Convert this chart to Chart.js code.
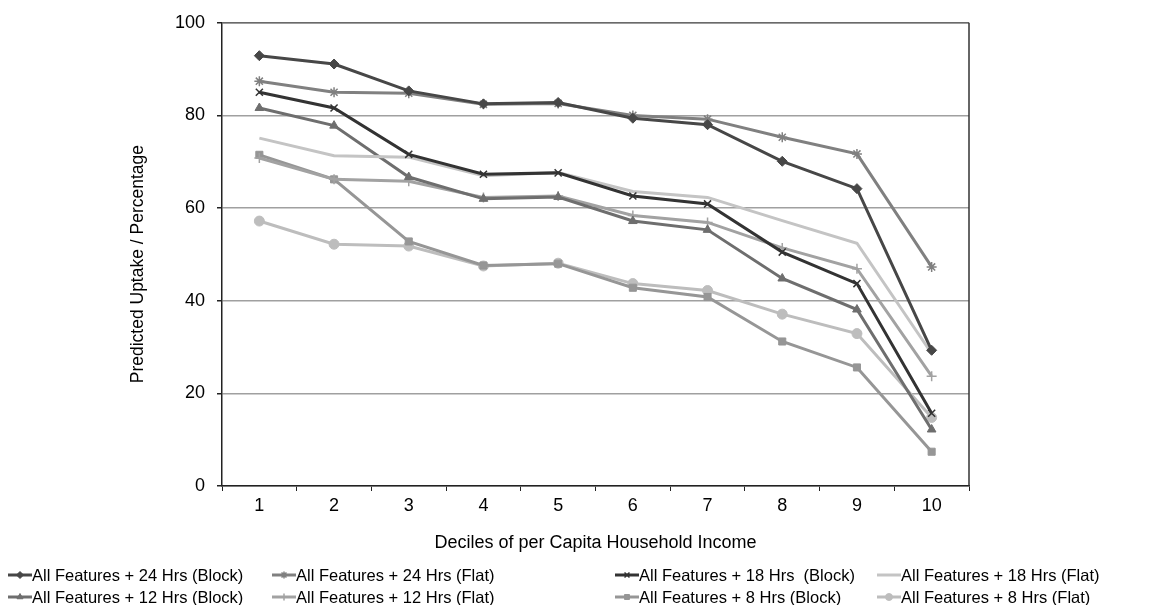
<!DOCTYPE html>
<html>
<head>
<meta charset="utf-8">
<script src="https://cdn.jsdelivr.net/npm/chart.js@4.4.1/dist/chart.umd.min.js"></script>
<style>
    html, body { margin: 0; padding: 0; background: #fff; }
    #wrap { width: 1169px; height: 605px; position: relative; }
</style>
</head>
<body>
<div id="wrap"><canvas id="chart"></canvas></div>
<script>
// Data
const deciles = ['1', '2', '3', '4', '5', '6', '7', '8', '9', '10'];
const yTicks = [0, 20, 40, 60, 80, 100];

const seriesNames = [
    'All Features + 24 Hrs (Block)',
    'All Features + 24 Hrs (Flat)',
    'All Features + 18 Hrs  (Block)',
    'All Features + 18 Hrs (Flat)',
    'All Features + 12 Hrs (Block)',
    'All Features + 12 Hrs (Flat)',
    'All Features + 8 Hrs (Block)',
    'All Features + 8 Hrs (Flat)'
];

const hrs24Block = [92.9, 91.1, 85.3, 82.5, 82.8, 79.4, 78.0, 70.1, 64.2, 29.3];
const hrs24Flat  = [87.4, 85.0, 84.8, 82.4, 82.6, 80.0, 79.2, 75.3, 71.7, 47.3];
const hrs18Block = [85.0, 81.6, 71.6, 67.3, 67.6, 62.6, 60.9, 50.5, 43.7, 15.7];
const hrs18Flat  = [75.1, 71.3, 71.0, 67.0, 67.7, 63.6, 62.3, 57.3, 52.4, 28.6];
const hrs12Block = [81.6, 77.8, 66.7, 62.0, 62.4, 57.2, 55.3, 44.8, 38.1, 12.2];
const hrs12Flat  = [70.8, 66.2, 65.8, 62.3, 62.6, 58.4, 56.9, 51.4, 46.9, 23.7];
const hrs8Block  = [71.5, 66.2, 52.8, 47.6, 48.0, 42.8, 40.8, 31.2, 25.6, 7.4];
const hrs8Flat   = [57.2, 52.2, 51.8, 47.5, 48.1, 43.7, 42.2, 37.1, 32.9, 14.8];

const seriesValues = [hrs24Block, hrs24Flat, hrs18Block, hrs18Flat, hrs12Block, hrs12Flat, hrs8Block, hrs8Flat];

const FONT = "'Liberation Sans', Arial, sans-serif";

// look of each series (grey shades + Excel style markers)
const styles = [
    { color: '#474747', point: 'rectRot',  radius: 5 },
    { color: '#808080', point: 'star',     radius: 5 },
    { color: '#333333', point: 'crossRot', radius: 5 },
    { color: '#c4c4c4', point: false,      radius: 0 },
    { color: '#6e6e6e', point: 'triangle', radius: 5 },
    { color: '#a2a2a2', point: 'cross',    radius: 5 },
    { color: '#969696', point: 'rect',     radius: 5 },
    { color: '#bdbdbd', point: 'circle',   radius: 5 }
];

const datasets = seriesValues.map((vals, i) => {
    const s = styles[i];
    const stroked = s.point === 'star' || s.point === 'cross' || s.point === 'crossRot';
    return {
        label: seriesNames[i],
        data: vals,
        borderColor: s.color,
        backgroundColor: s.color,
        borderWidth: 3,
        pointStyle: s.point,
        pointRadius: s.radius,
        pointHoverRadius: s.radius,
        pointBorderWidth: stroked ? 1.5 : 1,
        pointBackgroundColor: s.color,
        pointBorderColor: s.color,
        tension: 0,
        fill: false
    };
});

// top / right frame of the plot area
const frame = {
    id: 'frame',
    afterDraw(chart) {
        const { ctx, chartArea: a } = chart;
        ctx.save();
        ctx.strokeStyle = '#6a6a6a';
        ctx.lineWidth = 1.5;
        ctx.beginPath();
        ctx.moveTo(a.left, a.top);
        ctx.lineTo(a.right, a.top);
        ctx.stroke();
        ctx.strokeStyle = '#333';
        ctx.beginPath();
        ctx.moveTo(a.right, a.top);
        ctx.lineTo(a.right, a.bottom);
        ctx.stroke();
        ctx.restore();
    }
};

// legend in 4 columns x 2 rows like the original
const gridLegend = {
    id: 'gridLegend',
    afterDraw(chart) {
        const ctx = chart.ctx;
        const colX = [8, 272, 615, 877];
        const rowY = [575, 597];
        ctx.save();
        chart.data.datasets.forEach((ds, i) => {
            const x = colX[i % 4];
            const y = rowY[Math.floor(i / 4)];
            ctx.strokeStyle = ds.borderColor;
            ctx.lineWidth = 3;
            ctx.beginPath();
            ctx.moveTo(x, y);
            ctx.lineTo(x + 24, y);
            ctx.stroke();
            if (ds.pointStyle && Chart.helpers && Chart.helpers.drawPoint) {
                ctx.fillStyle = ds.pointBackgroundColor;
                ctx.strokeStyle = ds.pointBorderColor;
                ctx.lineWidth = ds.pointBorderWidth;
                Chart.helpers.drawPoint(ctx, {
                    pointStyle: ds.pointStyle,
                    radius: 3.5,
                    rotation: 0,
                    borderWidth: ds.pointBorderWidth
                }, x + 12, y);
            }
            ctx.fillStyle = '#000';
            ctx.font = '16.5px ' + FONT;
            ctx.textBaseline = 'middle';
            ctx.textAlign = 'left';
            ctx.fillText(ds.label, x + 24, y + 1);
        });
        ctx.restore();
    }
};

new Chart(document.getElementById('chart').getContext('2d'), {
    type: 'line',
    data: { labels: deciles, datasets: datasets },
    plugins: [frame, gridLegend],
    options: {
        responsive: true,
        maintainAspectRatio: false,
        animation: false,
        layout: { padding: { left: 0, top: 22, right: 200, bottom: 51 } },
        plugins: {
            legend: { display: false },
            tooltip: { enabled: false }
        },
        scales: {
            x: {
                offset: true,
                grid: {
                    offset: true,
                    drawOnChartArea: false,
                    drawTicks: true,
                    tickLength: 5,
                    tickColor: '#222'
                },
                border: { color: '#222', width: 1.5 },
                ticks: {
                    color: '#000',
                    padding: 4,
                    maxRotation: 0,
                    font: { family: FONT, size: 18 }
                },
                title: {
                    display: true,
                    text: 'Deciles of per Capita Household Income',
                    color: '#000',
                    font: { family: FONT, size: 18 },
                    padding: { top: 0, bottom: 0 }
                },
                afterFit(scale) { scale.height = 68; }
            },
            y: {
                min: 0,
                max: 100,
                afterBuildTicks(scale) { scale.ticks = yTicks.map(v => ({ value: v })); },
                grid: {
                    color: '#a0a0a0',
                    lineWidth: 1.5,
                    tickLength: 5,
                    tickColor: '#222'
                },
                border: { color: '#222', width: 1.5 },
                ticks: {
                    color: '#000',
                    padding: 12,
                    font: { family: FONT, size: 18 }
                },
                title: {
                    display: true,
                    // trailing spaces keep the title a bit lower, as in the original
                    text: 'Predicted Uptake / Percentage    ',
                    color: '#000',
                    font: { family: FONT, size: 17.5 },
                    padding: { top: 128, bottom: 0 }
                },
                afterFit(scale) { scale.width = 222; }
            }
        }
    }
});
</script>
</body>
</html>
